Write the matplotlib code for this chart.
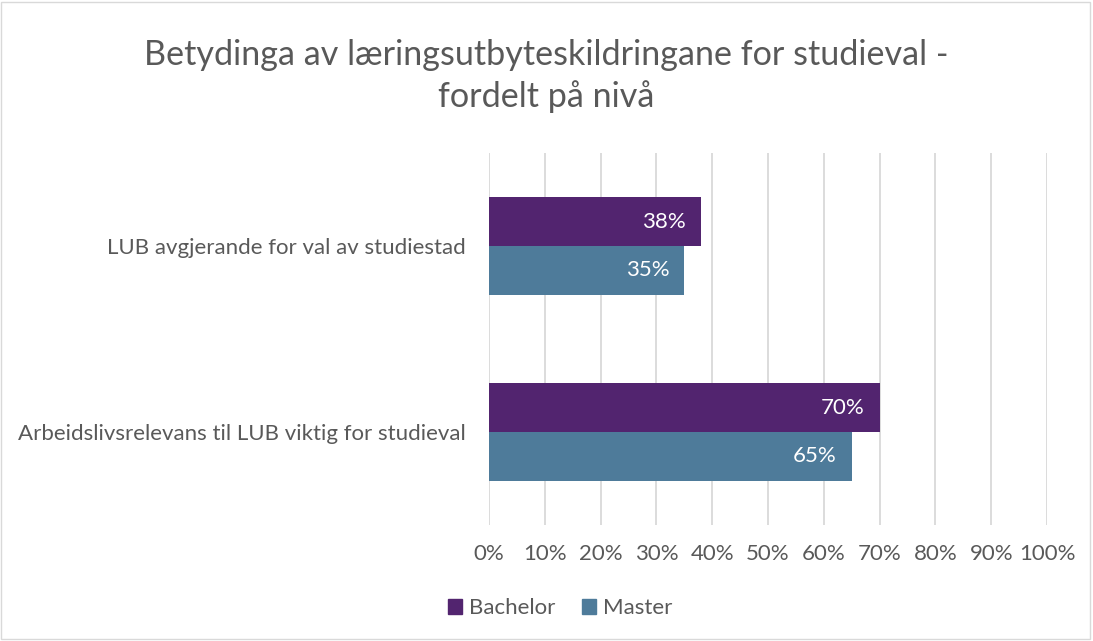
import matplotlib
matplotlib.use("Agg")
import matplotlib.pyplot as plt
from matplotlib.patches import Rectangle, Patch
import numpy as np

categories = ["LUB avgjerande for val av studiestad",
              "Arbeidslivsrelevans til LUB viktig for studieval"]
bachelor = [38, 70]
master = [35, 65]
series_names = ["Bachelor", "Master"]
colors = ["#52246F", "#4E7B9A"]
xticks = list(range(0, 101, 10))
title = "Betydinga av læringsutbyteskildringane for studieval -\nfordelt på nivå"

plt.rcParams['font.family'] = ['Lato', 'DejaVu Sans']
W, H = 1093, 641
fig = plt.figure(figsize=(W/100, H/100), dpi=100)
ax = fig.add_axes([489/W, 1-525/H, (1047-489)/W, (525-153)/H])

y = np.arange(len(categories))
bh = 0.263
bars_b = ax.barh(y - bh/2, bachelor, height=bh, color=colors[0], label=series_names[0])
bars_m = ax.barh(y + bh/2, master, height=bh, color=colors[1], label=series_names[1])
for bars, vals in ((bars_b, bachelor), (bars_m, master)):
    for b, v in zip(bars, vals):
        ax.text(v - 2.7, b.get_y() + b.get_height()/2, f"{v}%", ha='right', va='center',
                color='white', fontsize=16)

ax.set_xlim(0, 100)
ax.set_ylim(-0.5, 1.5)
ax.invert_yaxis()
ax.set_xticks(xticks)
ax.set_xticklabels([f"{t}%" for t in xticks], fontsize=16, color='#595959')
ax.set_yticks(y)
ax.set_yticklabels(categories, fontsize=16, color='#595959')
ax.tick_params(axis='both', length=0)
ax.tick_params(axis='x', pad=14)
ax.tick_params(axis='y', pad=17)
ax.grid(axis='x', color='#D9D9D9', linewidth=1.3)
ax.set_axisbelow(True)
for s in ax.spines.values():
    s.set_visible(False)

fig.text(0.5, 1-76/H, title, ha='center', va='center', fontsize=24.6, color='#595959',
         linespacing=1.35)

handles = [Patch(color=c) for c in colors]
fig.legend(handles, series_names, loc='center', bbox_to_anchor=(560/W, 1-608/H),
           ncol=2, frameon=False, fontsize=16, labelcolor='#595959',
           handlelength=0.65, handleheight=0.65, handletextpad=0.3, columnspacing=1.2)

fig.add_artist(Rectangle((0.5/W, 2/H), (W-3.5)/W, (H-4)/H, transform=fig.transFigure,
                         fill=False, edgecolor='#D9D9D9', linewidth=1))

fig.savefig("out.png", dpi=100, facecolor='white')
